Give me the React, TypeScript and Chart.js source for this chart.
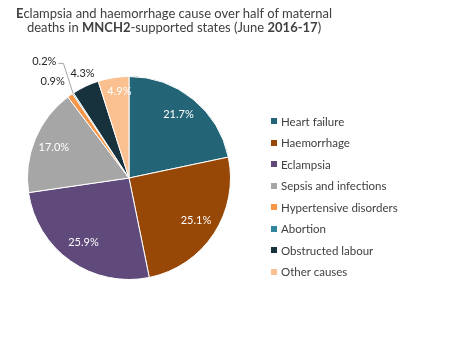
import React, { useEffect, useRef } from "react";
import { Chart, registerables } from "chart.js";

Chart.register(...registerables);

const categories = [
  "Heart failure",
  "Haemorrhage",
  "Eclampsia",
  "Sepsis and infections",
  "Hypertensive disorders",
  "Abortion",
  "Obstructed labour",
  "Other causes",
];
const shares = [21.7, 25.1, 25.9, 17.0, 0.9, 0.2, 4.3, 4.9];

const sliceColors = [
  "#236476",
  "#974706",
  "#604a7b",
  "#a6a6a6",
  "#f79646",
  "#31859c",
  "#17323c",
  "#fac090",
];
// label placement: radial factor (fraction of radius) and angle offset (deg)
const labelRadius = [0.79, 0.78, 0.78, 0.8, 1.21, 1.42, 1.13, 0.86];
const labelAngleOffset = [-1, -1, 0, 0, -3, -2.5, 1.5, 2.5];
const labelInside = [true, true, true, true, false, false, false, true];
const labelLeader = [false, false, false, false, false, true, false, false];

const FONT = "Lato, 'Open Sans', sans-serif";

const labelPlugin = {
  id: "sliceLabels",
  afterDatasetsDraw(chart: any) {
    const ctx = chart.ctx;
    const meta = chart.getDatasetMeta(0);
    ctx.save();
    ctx.font = `11px ${FONT}`;
    ctx.textAlign = "center";
    ctx.textBaseline = "middle";
    meta.data.forEach((arc: any, i: number) => {
      const mid = (arc.startAngle + arc.endAngle) / 2;
      const a = mid + (labelAngleOffset[i] * Math.PI) / 180;
      const r = arc.outerRadius * labelRadius[i];
      const x = arc.x + Math.cos(a) * r;
      const y = arc.y + Math.sin(a) * r;
      const text = shares[i].toFixed(1) + "%";
      ctx.fillStyle = labelInside[i] ? "#ffffff" : "#262626";
      ctx.fillText(text, x, y);
      if (labelLeader[i]) {
        const w = ctx.measureText(text).width;
        const sx = x + w / 2 + 2;
        const sy = y + 2;
        const ex = arc.x + Math.cos(mid) * arc.outerRadius;
        const ey = arc.y + Math.sin(mid) * arc.outerRadius;
        ctx.strokeStyle = "#a6a6a6";
        ctx.lineWidth = 1;
        ctx.beginPath();
        ctx.moveTo(sx, sy);
        ctx.lineTo(sx + 5, sy);
        ctx.lineTo(ex, ey);
        ctx.stroke();
      }
    });
    ctx.restore();
  },
};

export default function App() {
  const ref = useRef<HTMLCanvasElement>(null);
  useEffect(() => {
    if (!ref.current) return;
    const chart = new Chart(ref.current, {
      type: "pie",
      data: {
        labels: categories,
        datasets: [
          {
            data: shares,
            backgroundColor: sliceColors,
            borderColor: "#ffffff",
            borderWidth: 1,
          },
        ],
      },
      options: {
        animation: false,
        responsive: false,
        layout: { padding: { left: 27, right: 245, top: 76, bottom: 81 } },
        plugins: {
          legend: { display: false },
          tooltip: { enabled: false },
          title: { display: false },
        },
      },
      plugins: [labelPlugin],
    });
    return () => chart.destroy();
  }, []);

  return (
    <div
      style={{
        position: "fixed",
        left: 0,
        top: 0,
        width: 476,
        height: 361,
        background: "#ffffff",
        fontFamily: FONT,
      }}
    >
      <canvas
        ref={ref}
        width={476}
        height={361}
        style={{ position: "absolute", left: 0, top: 0, width: 476, height: 361 }}
      />
      <div
        style={{
          position: "absolute",
          left: 0,
          top: 6,
          width: 348,
          textAlign: "center",
          fontSize: 13,
          lineHeight: "14px",
          color: "#404040",
        }}
      >
        <b>E</b>clampsia and haemorrhage cause over half of maternal
        <br />
        deaths in <b>MNCH2</b>-supported states (June <b>2016-17</b>)
      </div>
      {categories.map((c, i) => (
        <div
          key={c}
          style={{
            position: "absolute",
            left: 271,
            top: 121 + i * 21.5 - 8,
            height: 16,
            display: "flex",
            alignItems: "center",
            fontSize: 11.5,
            color: "#404040",
            whiteSpace: "nowrap",
          }}
        >
          <span
            style={{
              display: "inline-block",
              width: 6,
              height: 6,
              background: sliceColors[i],
              marginRight: 4,
            }}
          />
          {c}
        </div>
      ))}
    </div>
  );
}
